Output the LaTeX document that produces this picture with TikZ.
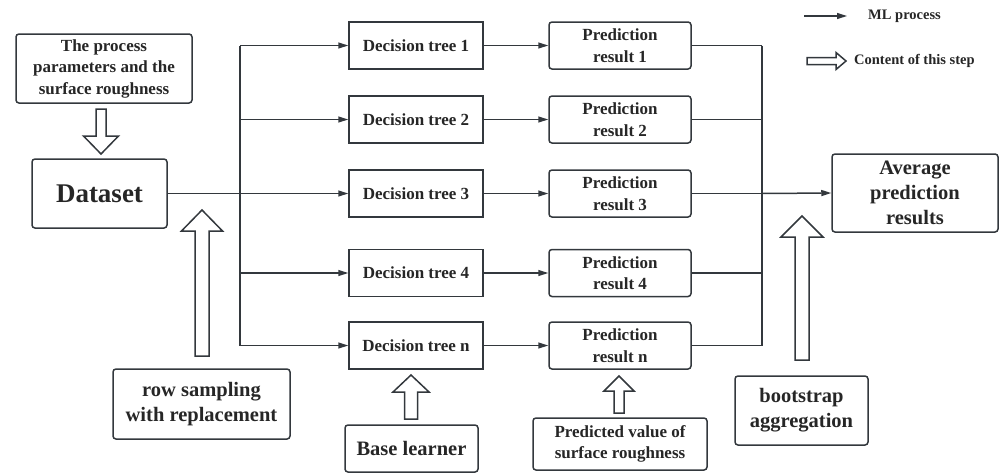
\documentclass[tikz,border=0pt]{standalone}
\usepackage{fontspec}
\setmainfont{Liberation Serif}
\newfontfamily\lsr{Liberation Serif}
\usetikzlibrary{arrows.meta}
\definecolor{ink}{HTML}{33383D}
\definecolor{txt}{HTML}{262626}
% hollow vertical arrow: x, tail y, head base y, tip y, shaft half, head half
\newcommand{\hollowv}[6]{%
  \draw[hol] ({#1-#5},#2) -- ({#1-#5},#3) -- ({#1-#6},#3) -- (#1,#4) -- ({#1+#6},#3) -- ({#1+#5},#3) -- ({#1+#5},#2) -- cycle;}
% hollow horizontal arrow: y, tail x, head base x, tip x, shaft half, head half
\newcommand{\hollowh}[6]{%
  \draw[hol] (#2,{#1-#5}) -- (#3,{#1-#5}) -- (#3,{#1-#6}) -- (#4,#1) -- (#3,{#1+#6}) -- (#3,{#1+#5}) -- (#2,{#1+#5}) -- cycle;}
\tikzset{
  base/.style={draw=ink, line width=1.5pt, text=txt, align=center, inner sep=0pt, font=\lsr\bfseries\fontsize{17}{21.5}\selectfont},
  sq/.style={base},
  rnd/.style={base, rounded corners=3pt},
  big/.style={rnd, font=\lsr\bfseries\fontsize{20.5}{25}\selectfont},
  arr/.style={draw=ink, line width=1.5pt, -{Triangle[length=10pt,width=6pt]}},
  ln/.style={draw=ink, line width=1.5pt},
  hol/.style={draw=ink, line width=1.5pt, fill=white, line join=miter},
  leg/.style={text=txt, anchor=west, inner sep=0pt, font=\lsr\bfseries\fontsize{14.5}{17}\selectfont}
}
\begin{document}
\begin{tikzpicture}[x=1pt,y=-1pt]
\useasboundingbox (0,0) rectangle (1002,474);

% left column
\node[rnd, minimum width=176pt, minimum height=69pt] (param) at (104,68.5) {The process\\parameters and the\\surface roughness};
\node[rnd, minimum width=135pt, minimum height=69pt, font=\lsr\bfseries\fontsize{27}{30}\selectfont] (data) at (99.5,193.5) {Dataset};
\node[big, minimum width=177pt, minimum height=70pt] (row) at (201.5,404) {row sampling\\with replacement};

% trees
\foreach \i/\y/\l in {1/45.5/1,2/119.5/2,3/193.5/3,4/273/4,5/345.5/n}{
  \node[sq, minimum width=134pt, minimum height=47pt] (t\i) at (416,\y) {Decision tree \l};
  \node[rnd, minimum width=142pt, minimum height=47pt] (p\i) at (620,\y) {Prediction\\result \l};
  \coordinate (bl\i) at (240,\y);
  \coordinate (br\i) at (762,\y);
}
\node[big, minimum width=133pt, minimum height=47pt] (base) at (411.5,448.5) {Base learner};
\node[rnd, minimum width=174pt, minimum height=52pt] (pv) at (620,444) {Predicted value of\\surface roughness};
\node[big, minimum width=133pt, minimum height=69pt] (boot) at (801.5,410.5) {bootstrap\\aggregation};
\node[big, minimum width=166pt, minimum height=78pt] (avg) at (915,193) {Average\\prediction\\results};

% connectors
\draw[ln] (data.east) -- (bl3);
\draw[ln] (bl1) -- (bl5);
\draw[ln] (br1) -- (br5);
\foreach \i in {1,...,5}{
  \draw[arr] (bl\i) -- (t\i.west);
  \draw[arr] (t\i.east) -- (p\i.west);
  \draw[ln] (p\i.east) -- (br\i);
}
\draw[arr] (br3) -- (avg.west);

% hollow arrows
\hollowv{101}{109}{136}{154}{5}{17.5}
\hollowv{202}{356}{231}{210}{7}{20.5}
\hollowv{411}{419}{392}{375}{6.5}{18}
\hollowv{619}{413}{391}{376}{5}{15}
\hollowv{802}{360}{237}{216}{7}{21}

% legend
\coordinate (la) at (804,16);
\coordinate (lb) at (847,16);
\draw[arr] (la) -- (lb);
\node[leg] (lt1) at (868,16) {ML process};
\hollowh{61}{807}{836}{846}{3.5}{8.5}
\node[leg] (lt2) at (854,61) {Content of this step};
\end{tikzpicture}
\end{document}
